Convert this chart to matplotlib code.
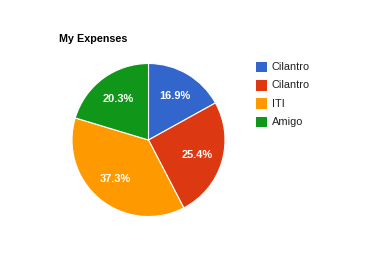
import matplotlib
matplotlib.use("Agg")
import matplotlib.pyplot as plt
from matplotlib.patches import Rectangle

labels = ["Cilantro", "Cilantro", "ITI", "Amigo"]
values = [10, 15, 22, 12]
colors = ["#3366CC", "#DC3912", "#FF9900", "#109618"]
title = "My Expenses"

W, H, DPI = 375, 256, 100
plt.rcParams['font.family'] = ['Liberation Sans', 'DejaVu Sans']
fig = plt.figure(figsize=(W / DPI, H / DPI), dpi=DPI)
fig.patch.set_facecolor("white")

def px(v):
    return v * 72.0 / DPI

cx, cy, r = 148.5, 140.0, 76.5
ax = fig.add_axes([(cx - r) / W, (H - cy - r) / H, 2 * r / W, 2 * r / H])
wedges, texts, autotexts = ax.pie(
    values, colors=colors, startangle=90, counterclock=False, radius=1.0,
    autopct="%.1f%%", pctdistance=0.67,
    wedgeprops=dict(edgecolor="white", linewidth=0.8, clip_on=False),
    textprops=dict(color="white", fontsize=px(11), fontweight="bold"))
ax.set_xlim(-1.0, 1.0)
ax.set_ylim(-1.0, 1.0)
ax.set_aspect("equal")
ax.axis("off")

fig.text(59 / W, 1 - 42.3 / H, title, fontsize=px(10.8), fontweight="bold",
         color="black", ha="left", va="baseline")

sq = 10.7
row_y = [67, 85.3, 103.7, 122]
for lab, col, yc in zip(labels, colors, row_y):
    fig.patches.append(Rectangle((256 / W, 1 - (yc + sq / 2) / H), sq / W, sq / H,
                                 transform=fig.transFigure, facecolor=col,
                                 edgecolor="none"))
    fig.text(272 / W, 1 - yc / H, lab, fontsize=px(11), color="#222222",
             ha="left", va="center")

fig.savefig("out.png", dpi=DPI)
